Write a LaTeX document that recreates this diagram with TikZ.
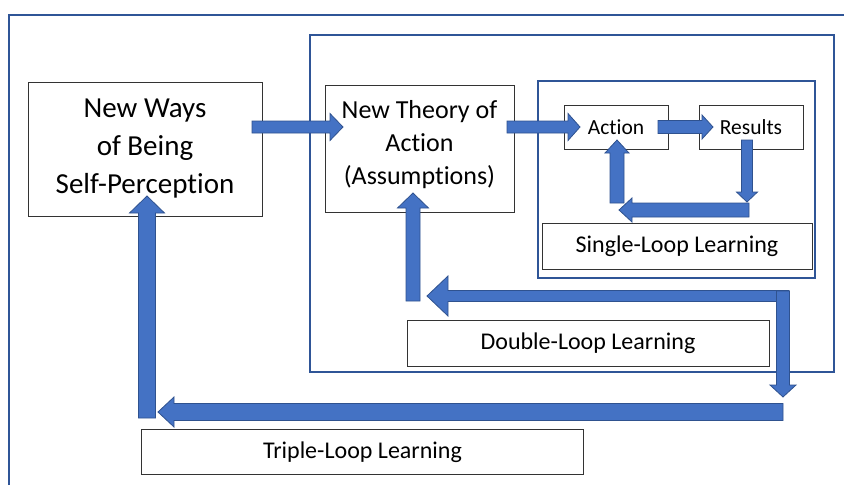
\documentclass[tikz,border=0pt]{standalone}
\usepackage{fontspec}
\setmainfont{Carlito}[Ligatures=NoCommon]
\usetikzlibrary{calc}

\definecolor{arrowfill}{HTML}{4472C4}
\definecolor{arrowedge}{HTML}{2F528F}
\definecolor{framecol}{HTML}{2F5597}

% Block arrow from #1 (tail) to #2 (tip): shaft half width #3, head half width #4, head length #5 (all pt)
\newcommand\fatarrow[5]{%
  \coordinate (fa-base) at ($(#2)!#5pt!(#1)$);
  \filldraw[blockarrow]
    ($(#1)!#3pt!90:(#2)$) -- ($(fa-base)!#3pt!90:(#2)$) -- ($(fa-base)!#4pt!90:(#2)$) --
    (#2) --
    ($(fa-base)!#4pt!-90:(#2)$) -- ($(fa-base)!#3pt!-90:(#2)$) -- ($(#1)!#3pt!-90:(#2)$) -- cycle;}

\begin{document}
\begin{tikzpicture}[x=1pt,y=-1pt,
  box/.style={draw=black!80, line width=0.9pt, fill=white, align=center, inner sep=0pt},
  frame/.style={draw=framecol, line width=2pt},
  blockarrow/.style={fill=arrowfill, draw=arrowedge, line width=0.8pt, line join=miter},
  bigtext/.style={font=\fontsize{29}{38}\selectfont},
  midtext/.style={font=\fontsize{26}{33}\selectfont},
  looptext/.style={font=\fontsize{24}{29}\selectfont},
  smalltext/.style={font=\fontsize{21.5}{26}\selectfont}]

\useasboundingbox (0,0) rectangle (844,485);
\fill[white] (0,0) rectangle (844,485);

% enclosing frames
\draw[frame, line width=2.6pt] (9,485) -- (9,15) -- (844,15);
\draw[frame] (310,35) rectangle (834,372);
\draw[frame] (538,81) rectangle (815,278);

% boxes
\node[box, bigtext, minimum width=234pt, minimum height=134pt] (newways) at (145,149)
  {New Ways\\of Being\\Self-Perception};
\node[box, midtext, minimum width=189pt, minimum height=127pt] (theory) at (419.5,148.5)
  {New Theory of\\Action\\(Assumptions)\rule[-13pt]{0pt}{13pt}};
\node[box, smalltext, minimum width=104pt, minimum height=44pt] (action) at (616,127) {Action};
\node[box, smalltext, minimum width=104pt, minimum height=44pt] (results) at (751,127) {Results};
\node[box, looptext, minimum width=270pt, minimum height=46pt] (single) at (677,246) {Single-Loop Learning};
\node[box, looptext, minimum width=362pt, minimum height=46pt] (double) at (588,343) {Double-Loop Learning};
\node[box, looptext, minimum width=442pt, minimum height=45pt] (triple) at (362.5,452) {Triple-Loop Learning};

% arrow end points
\coordinate (a1s) at (252,127);  \coordinate (a1t) at (343,127);
\coordinate (a2s) at (507,127);  \coordinate (a2t) at (580,127);
\coordinate (a3s) at (658,127);  \coordinate (a3t) at (713,127);
\coordinate (s1s) at (747,140);  \coordinate (s1t) at (747,202);
\coordinate (s2s) at (749,210);  \coordinate (s2t) at (619,210);
\coordinate (s3s) at (617,203);  \coordinate (s3t) at (617,140);
\coordinate (d1s) at (783,291);  \coordinate (d1t) at (783,397);
\coordinate (d2s) at (789,296);  \coordinate (d2t) at (427,296);
\coordinate (d3s) at (413,301);  \coordinate (d3t) at (413,193);
\coordinate (t1s) at (783,412);  \coordinate (t1t) at (158,412);
\coordinate (t2s) at (147,418);  \coordinate (t2t) at (147,196);

% forward arrows
\fatarrow{a1s}{a1t}{6}{13.5}{13}
\fatarrow{a2s}{a2t}{6}{13.5}{12}
\fatarrow{a3s}{a3t}{6.5}{12}{11}

% single loop
\fatarrow{s2s}{s2t}{7}{12}{13}
\fatarrow{s3s}{s3t}{7}{12}{13}
\fatarrow{s1s}{s1t}{5.5}{10.5}{10}

% double loop
\fatarrow{d2s}{d2t}{5.5}{20}{21}
\fatarrow{d3s}{d3t}{7}{15.5}{15}
\fatarrow{d1s}{d1t}{6.5}{13}{12}

% triple loop
\fatarrow{t1s}{t1t}{8.5}{15}{16}
\fatarrow{t2s}{t2t}{8.5}{17.5}{17}

\end{tikzpicture}
\end{document}
